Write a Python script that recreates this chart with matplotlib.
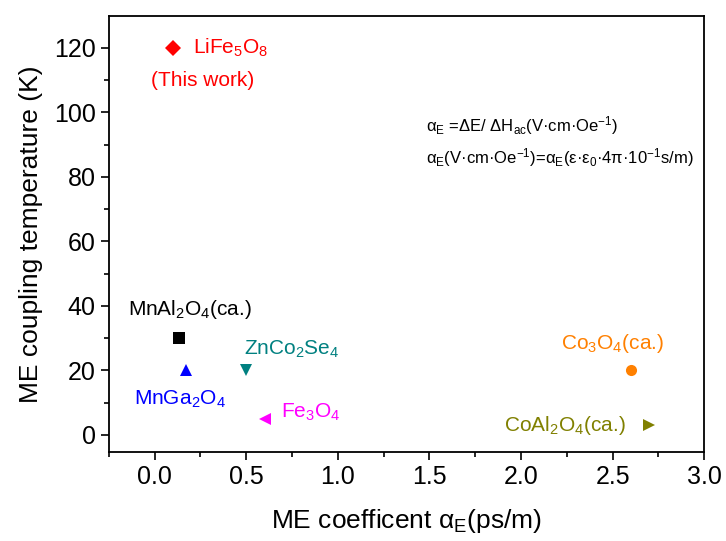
import matplotlib
matplotlib.use("Agg")
import matplotlib.pyplot as plt

plt.rcParams['font.family'] = ['Liberation Sans', 'DejaVu Sans']
plt.rcParams['mathtext.fontset'] = 'custom'
plt.rcParams['mathtext.rm'] = 'Liberation Sans'
plt.rcParams['mathtext.it'] = 'Liberation Sans:italic'
plt.rcParams['mathtext.fallback'] = 'stix'

# data
names = ["LiFe5O8", "MnAl2O4", "MnGa2O4", "ZnCo2Se4", "Fe3O4", "Co3O4", "CoAl2O4"]
alpha_e = [0.1, 0.13, 0.17, 0.5, 0.6, 2.6, 2.7]
temp = [120, 30, 20, 20, 5, 20, 3]
markers = ["D", "s", "^", "v", "<", "o", ">"]
colors = ["#ff0000", "#000000", "#0000ff", "#008080", "#ff00ff", "#ff8000", "#808000"]
labels = [r"LiFe$_5$O$_8$", r"MnAl$_2$O$_4$(ca.)", r"MnGa$_2$O$_4$", r"ZnCo$_2$Se$_4$",
          r"Fe$_3$O$_4$", r"Co$_3$O$_4$(ca.)", r"CoAl$_2$O$_4$(ca.)"]
# label anchor (x, y, ha)
label_pos = [(0.21, 120, "left"), (0.19, 39, "center"), (0.14, 11, "center"),
             (0.49, 26.5, "left"), (0.69, 7, "left"), (2.5, 28.5, "center"),
             (2.57, 3, "right")]

fig = plt.figure(figsize=(7.26, 5.41), dpi=100)
ax = fig.add_axes([0.150, 0.1645, 0.820, 0.8065])

for i in range(len(names)):
    ax.plot(alpha_e[i], temp[i], marker=markers[i], color=colors[i], markersize=8,
            linestyle="none", markeredgewidth=0)
    lx, ly, ha = label_pos[i]
    ax.text(lx, ly, labels[i], color=colors[i], fontsize=15, ha=ha, va="center")

ax.text(0.26, 110, "(This work)", color="#ff0000", fontsize=15, ha="center", va="center")

# 公式
ax.text(1.48, 96, "α$_{\\mathrm{E}}$ =ΔE/ ΔH$_{\\mathrm{ac}}$(V·cm·Oe$^{-1}$)",
        fontsize=12, ha="left", va="center")
ax.text(1.48, 86, "α$_{\\mathrm{E}}$(V·cm·Oe$^{-1}$)=α$_{\\mathrm{E}}$(ε·ε$_{0}$·4π·10$^{-1}$s/m)",
        fontsize=12, ha="left", va="center")

ax.set_xlim(-0.25, 3.0)
ax.set_ylim(-5.3, 130)
ax.set_xticks([0.0, 0.5, 1.0, 1.5, 2.0, 2.5, 3.0])
ax.set_xticks([-0.25, 0.25, 0.75, 1.25, 1.75, 2.25, 2.75], minor=True)
ax.set_yticks([0, 20, 40, 60, 80, 100, 120])
ax.set_yticks([10, 30, 50, 70, 90, 110], minor=True)
ax.tick_params(which="major", direction="out", length=6, width=1.2, labelsize=18)
ax.tick_params(which="minor", direction="out", length=3.5, width=1.2)
for s in ax.spines.values():
    s.set_linewidth(1.3)

ax.set_xlabel("ME coefficent α$_{\\mathrm{E}}$(ps/m)", fontsize=19, labelpad=13)
ax.set_ylabel("ME coupling temperature (K)", fontsize=19, labelpad=8)

fig.savefig("out.png", dpi=100)
